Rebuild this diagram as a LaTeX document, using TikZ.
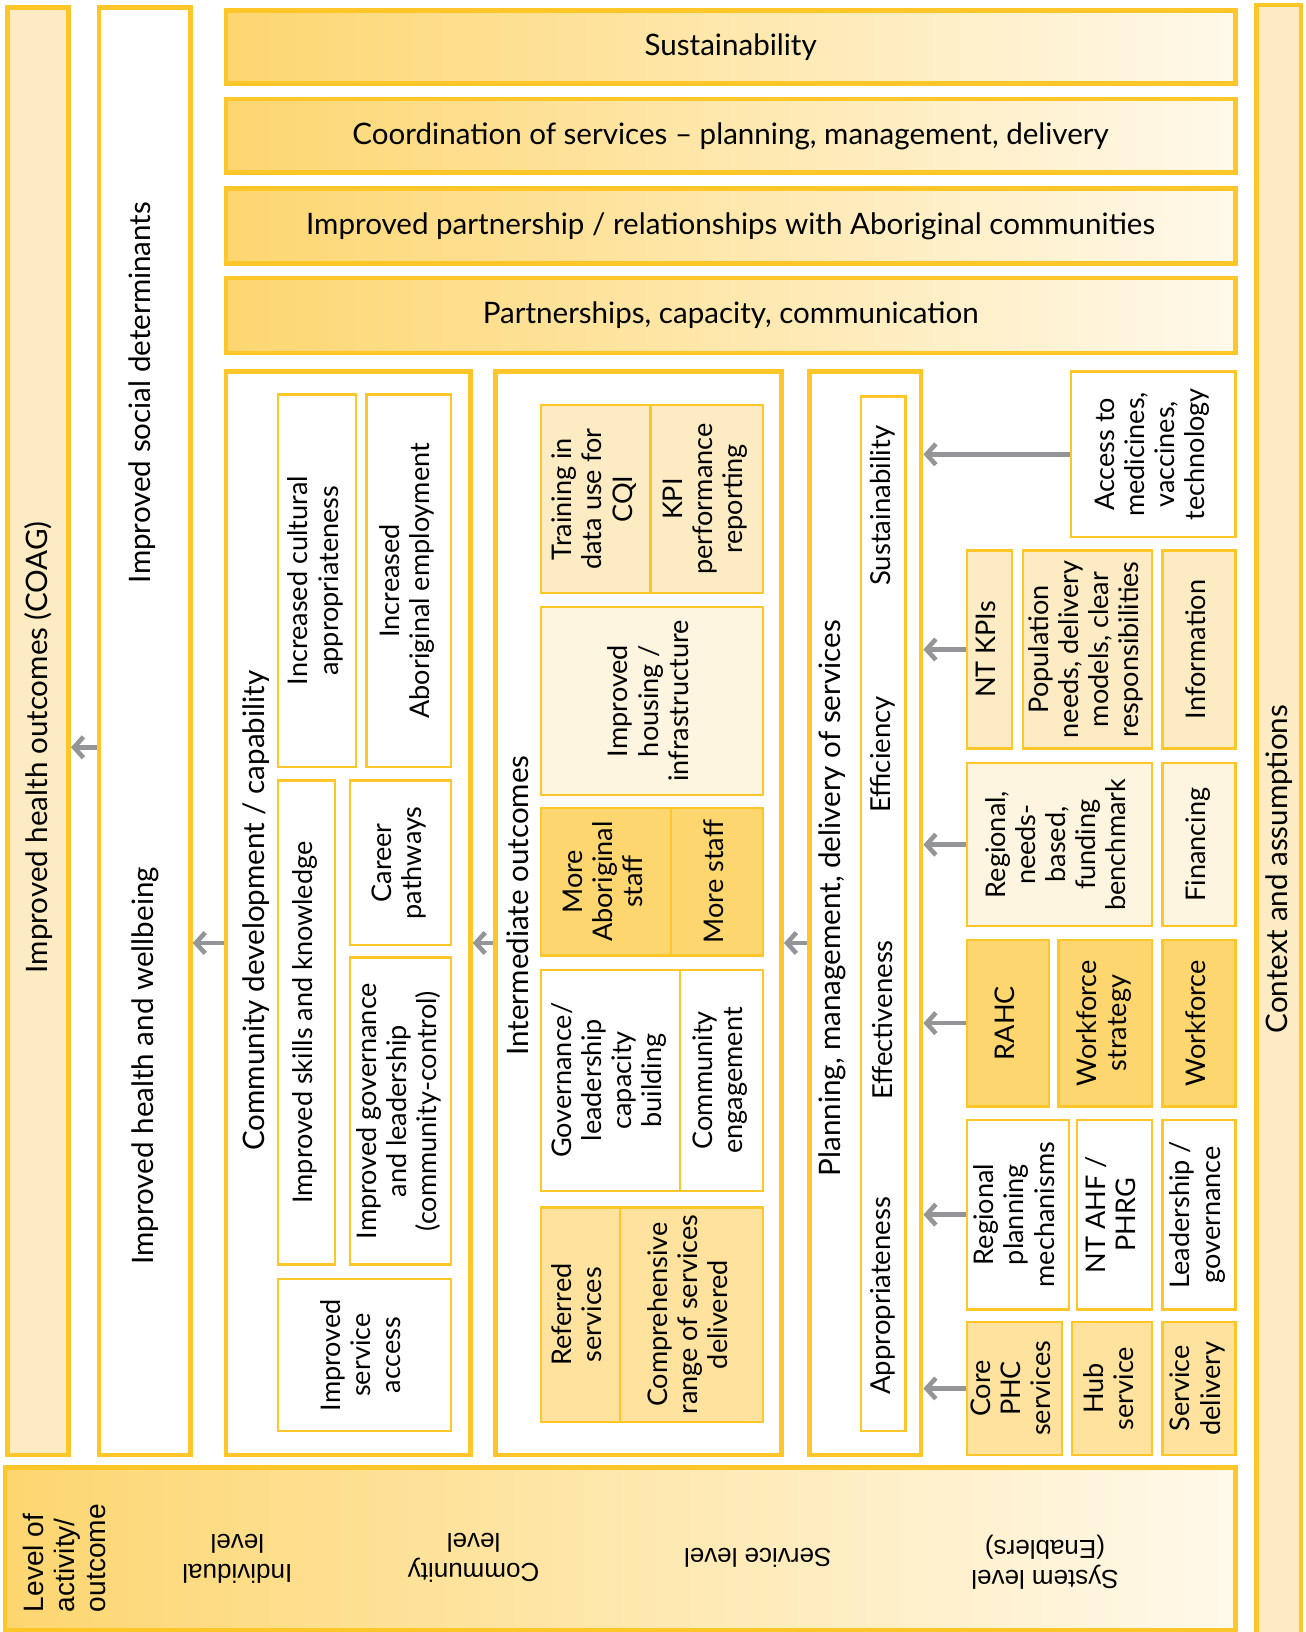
\documentclass[tikz,border=0pt]{standalone}
\usepackage{fontspec}
\setmainfont{Lato}
\newfontfamily\lvlfont{Liberation Sans}
\usepackage{tikz}
\usetikzlibrary{arrows.meta, positioning}
\usepackage{xcolor}
\usepackage{graphicx}

\definecolor{gold}{HTML}{FFC62A}
\definecolor{goldfill}{HTML}{FDD670}
\definecolor{midfill}{HTML}{FEE29D}
\definecolor{cream}{HTML}{FDEBC4}
\definecolor{pale}{HTML}{FEF5E0}
\definecolor{arrgray}{HTML}{939598}
\definecolor{bandL}{HTML}{FDD670}
\definecolor{bandR}{HTML}{FFF9EA}

\newcommand{\vt}[1]{\rotatebox{90}{\begin{tabular}{@{}c@{}}#1\end{tabular}}}

\begin{document}
\begin{tikzpicture}[x=0.5pt, y=-0.5pt,
    wh/.style 2 args={minimum width=#1pt, minimum height=#2pt},
    outer/.style={draw=gold, line width=2.2pt, inner sep=0pt},
    band/.style={outer, left color=bandL, right color=bandR,
                 font=\fontsize{14.2}{16}\selectfont},
    inbox/.style={draw=gold, line width=1.1pt, inner sep=0pt, fill=white,
                  font=\fontsize{13}{14.5}\selectfont},
    title/.style={rotate=90, inner sep=0pt, font=\fontsize{14.2}{16}\selectfont},
    crit/.style={rotate=90, inner sep=0pt, font=\fontsize{13.2}{15}\selectfont},
    lvl/.style={rotate=180, align=center, font=\lvlfont\fontsize{12.5}{14.5}\selectfont},
    arr/.style={-{Straight Barb[length=4.5pt, width=10pt]}, line width=2.2pt, draw=arrgray}
  ]
  \fill[white] (0,0) rectangle (1254,1568);
  \useasboundingbox (0,0) rectangle (1254,1568);

  % outcome columns
  \node[outer, fill=cream, wh={29.5}{695.5}] (coag) at (36.5,702.5) {};
  \node[title] (coagtxt) at (37,718) {Improved health outcomes (COAG)};
  \node[outer, fill=white, wh={44}{695.5}] (sdh) at (139,702.5) {};
  \node[title] (sdhtxt) at (137,377) {Improved social determinants};
  \node[title] (hwtxt) at (140,1024) {Improved health and wellbeing};

  % bands across the top
  \node[band, wh={485}{35}] (sust) at (702,45) {Sustainability};
  \node[band, wh={485}{35.5}] (coord) at (702,130.5) {Coordination of services -- planning, management, delivery};
  \node[band, wh={485}{36}] (partner) at (702,217) {Improved partnership / relationships with Aboriginal communities};
  \node[band, wh={485}{36}] (capac) at (702,303) {Partnerships, capacity, communication};

  \node[outer, fill=cream, wh={21.5}{787.5}] (ctx) at (1228.5,792.5) {};
  \node[title] (ctxtxt) at (1229,835) {Context and assumptions};

  % community level
  \node[outer, fill=white, wh={117.5}{520.5}] (commdev) at (334.5,877.5) {};
  \node[title] (commdevtxt) at (246,875) {Community development / capability};
  \node[inbox, wh={37.5}{179}] (cultural) at (304.5,558) {\vt{Increased cultural\\appropriateness}};
  \node[inbox, wh={40.5}{179}] (employ) at (392.5,558) {\vt{Increased\\Aboriginal employment}};
  \node[inbox, wh={27.5}{232.5}] (skills) at (294.5,982.5) {\vt{Improved skills and knowledge}};
  \node[inbox, wh={48.5}{79}] (career) at (384.5,829) {\vt{Career\\pathways}};
  \node[inbox, wh={48.5}{147.5}] (govern) at (384.5,1067.5) {\vt{Improved governance\\and leadership\\(community-control)}};
  \node[inbox, wh={83}{73}] (servacc) at (350,1302) {\vt{Improved\\service\\access}};

  % intermediate outcomes
  \node[outer, fill=white, wh={137.5}{520.5}] (inter) at (613.5,877.5) {};
  \node[title] (intertxt) at (497,870) {Intermediate outcomes};
  \node[inbox, fill=cream, wh={52.5}{90.5}] (cqi) at (572.5,479.5) {\vt{Training in\\data use for\\CQI}};
  \node[inbox, fill=cream, wh={54}{90.5}] (kpi) at (679,479.5) {\vt{KPI\\performance\\reporting}};
  \node[inbox, fill=pale, wh={106.5}{90.5}] (housing) at (626.5,673.5) {\vt{Improved\\housing /\\infrastructure}};
  \node[inbox, fill=goldfill, wh={62.5}{71}] (abstaff) at (582.5,847) {\vt{More\\Aboriginal\\staff}};
  \node[inbox, fill=goldfill, wh={44}{71}] (staff) at (689,847) {\vt{More staff}};
  \node[inbox, wh={66.5}{106}] (govcap) at (586.5,1038) {\vt{Governance/\\leadership\\capacity\\building}};
  \node[inbox, wh={40}{106}] (engage) at (693,1038) {\vt{Community\\engagement}};
  \node[inbox, fill=midfill, wh={38}{103}] (referred) at (558,1263) {\vt{Referred\\services}};
  \node[inbox, fill=midfill, wh={68.5}{103}] (compre) at (664.5,1263) {\vt{Comprehensive\\range of services\\delivered}};

  % service level
  \node[outer, fill=white, wh={53.5}{520.5}] (plan) at (831.5,877.5) {};
  \node[title] (plantxt) at (800,863) {Planning, management, delivery of services};
  \node[inbox, wh={21.5}{497}] (crit) at (848.5,878) {};
  \node[crit] (sustc) at (848,486) {Sustainability};
  \node[crit] (effic) at (848,725) {Efficiency};
  \node[crit] (effect) at (848,980) {Effectiveness};
  \node[crit] (approp) at (848,1245) {Appropriateness};

  % system level (enablers)
  \node[inbox, wh={79}{79.5}] (medic) at (1108,436.5) {\vt{Access to\\medicines,\\vaccines,\\technology}};
  \node[inbox, fill=cream, wh={21.5}{95}] (ntkpi) at (950.5,624) {\vt{NT KPIs}};
  \node[inbox, fill=cream, wh={62}{95}] (popn) at (1045,624) {\vt{Population\\needs, delivery\\models, clear\\responsibilities}};
  \node[inbox, fill=cream, wh={35}{95}] (info) at (1152,624) {\vt{Information}};
  \node[inbox, fill=pale, wh={89}{78.5}] (fund) at (1018,811.5) {\vt{Regional,\\needs-\\based,\\funding\\benchmark}};
  \node[inbox, fill=pale, wh={35}{78.5}] (finance) at (1152,811.5) {\vt{Financing}};
  \node[inbox, fill=goldfill, wh={39.5}{80}] (rahc) at (968.5,983) {\vt{RAHC}};
  \node[inbox, fill=goldfill, wh={45}{80}] (wfstrat) at (1062,983) {\vt{Workforce\\strategy}};
  \node[inbox, fill=goldfill, wh={35}{80}] (wforce) at (1152,983) {\vt{Workforce}};
  \node[inbox, wh={49}{91}] (regplan) at (978,1167) {\vt{Regional\\planning\\mechanisms}};
  \node[inbox, wh={36}{91}] (ntahf) at (1071,1167) {\vt{NT AHF /\\PHRG}};
  \node[inbox, wh={35}{91}] (leader) at (1152,1167) {\vt{Leadership /\\governance}};
  \node[inbox, fill=midfill, wh={45.5}{64}] (corephc) at (974.5,1334) {\vt{Core\\PHC\\services}};
  \node[inbox, fill=midfill, wh={38.5}{64}] (hub) at (1068.5,1334) {\vt{Hub\\service}};
  \node[inbox, fill=midfill, wh={35}{64}] (servdel) at (1152,1334) {\vt{Service\\delivery}};

  % level band
  \node[outer, left color=bandL, right color=bandR, wh={591}{78}] (levels) at (596,1488) {};
  \node[rotate=90, align=left, font=\lvlfont\fontsize{13.5}{15}\selectfont] (lvlhead) at (62,1497) {Level of\\activity/\\outcome};
  \node[lvl] (indiv) at (228,1498) {Individual\\level};
  \node[lvl] (commlvl) at (455,1497) {Community\\level};
  \node[lvl] (servlvl) at (728,1497) {Service level};
  \node[lvl] (syslvl) at (1004,1501) {System level\\(Enablers)};

  % arrows
  \coordinate (toprow) at (0,718);
  \coordinate (midrow) at (0,906);
  \draw[arr] (sdh.west |- toprow) -- (coag.east |- toprow);
  \draw[arr] (commdev.west |- midrow) -- (sdh.east |- midrow);
  \draw[arr] (inter.west |- midrow) -- (commdev.east |- midrow);
  \draw[arr] (plan.west |- midrow) -- (inter.east |- midrow);
  \draw[arr] (medic.west) -- (plan.east |- medic.west);
  \draw[arr] (ntkpi.west) -- (plan.east |- ntkpi.west);
  \draw[arr] (fund.west) -- (plan.east |- fund.west);
  \draw[arr] (rahc.west) -- (plan.east |- rahc.west);
  \draw[arr] (regplan.west) -- (plan.east |- regplan.west);
  \draw[arr] (corephc.west) -- (plan.east |- corephc.west);
\end{tikzpicture}
\end{document}
